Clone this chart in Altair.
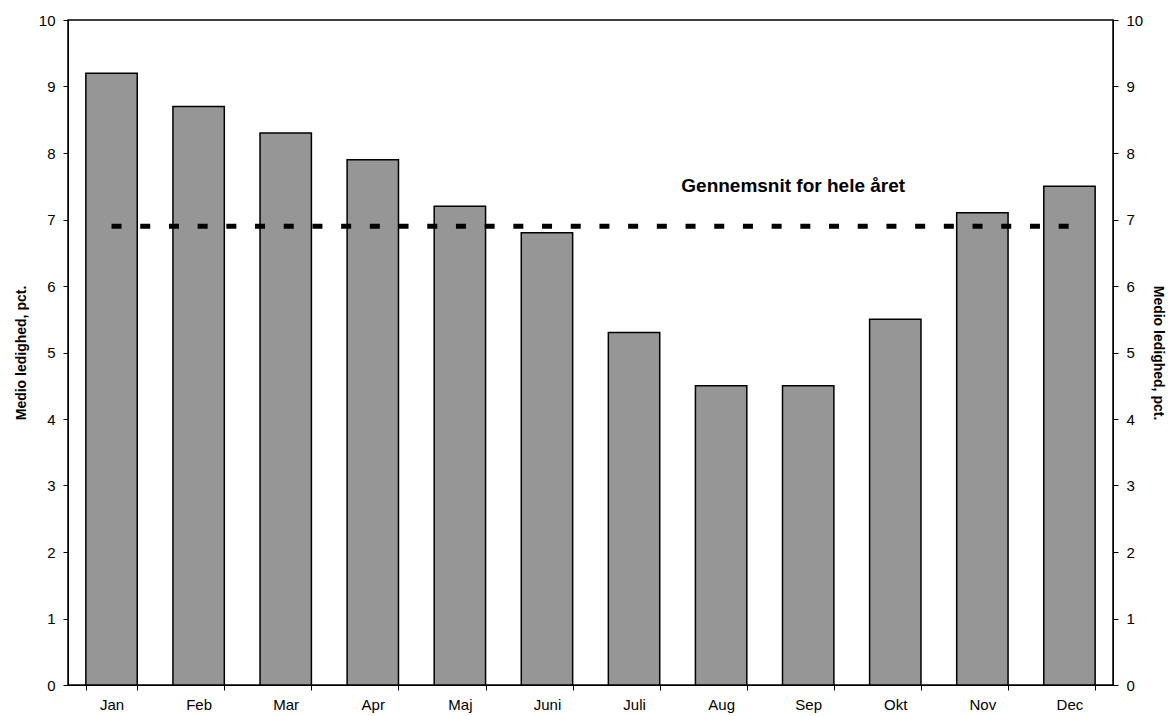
import altair as alt
import pandas as pd

months = ["Jan", "Feb", "Mar", "Apr", "Maj", "Juni", "Juli", "Aug", "Sep", "Okt", "Nov", "Dec"]
values = [9.2, 8.7, 8.3, 7.9, 7.2, 6.8, 5.3, 4.5, 4.5, 5.5, 7.1, 7.5]
avg_value = 6.9
avg_label = "Gennemsnit for hele året"
avg_label_y = 7.5
avg_label_month = "Sep"
y_title = "Medio ledighed, pct."

df = pd.DataFrame({"month": months, "value": values})
avg_df = pd.DataFrame({"month": [months[0], months[-1]], "value": [avg_value, avg_value]})
lab_df = pd.DataFrame({"month": [avg_label_month], "value": [avg_label_y], "label": [avg_label]})

FONT = "Liberation Sans"

xscale = alt.Scale(domain=months, paddingInner=0.41, paddingOuter=0.205)
yscale = alt.Scale(domain=[0, 10], nice=False)


def yaxis(orient, tpad):
    return alt.Axis(title=y_title, orient=orient, values=list(range(11)), format="d",
                    tickSize=5, tickColor="black", domainColor="black", grid=False,
                    labelFont=FONT, labelFontSize=15, labelColor="black",
                    titleFont=FONT, titleFontSize=14, titleFontWeight="bold",
                    titleColor="black", titlePadding=tpad, labelPadding=8)


xenc = alt.X("month:N", sort=months, scale=xscale,
             axis=alt.Axis(title=None, labelAngle=0, tickBand="extent", tickSize=5,
                           tickColor="black", domainColor="black", labelFont=FONT,
                           labelFontSize=15, labelColor="black", labelPadding=7))

bars = alt.Chart(df).mark_bar(color="#969696", stroke="black", strokeWidth=1.5).encode(
    x=xenc,
    y=alt.Y("value:Q", scale=yscale, axis=yaxis("left", 10)),
)

label = alt.Chart(lab_df).mark_text(font=FONT, fontSize=19, fontWeight="bold", color="black",
                                    dx=-15).encode(
    x=alt.X("month:N", sort=months, scale=xscale),
    y=alt.Y("value:Q", scale=yscale),
    text="label:N",
)

avg_line = alt.Chart(avg_df).mark_line(color="black", strokeWidth=5, strokeDash=[10, 18.7],
                                       strokeCap="butt").encode(
    x=alt.X("month:N", sort=months, scale=xscale),
    y=alt.Y("value:Q", scale=yscale, axis=yaxis("right", 8)),
)

chart = alt.layer(alt.layer(bars, label), avg_line).resolve_scale(y="independent").properties(
    width=1045, height=665,
    autosize=alt.AutoSizeParams(type="none"),
    padding={"left": 68, "top": 20, "right": 55, "bottom": 31},
    background="white",
).configure_view(stroke="black", strokeWidth=1.5)

chart.save("out.html", embed_options={"renderer": "svg", "actions": False})
